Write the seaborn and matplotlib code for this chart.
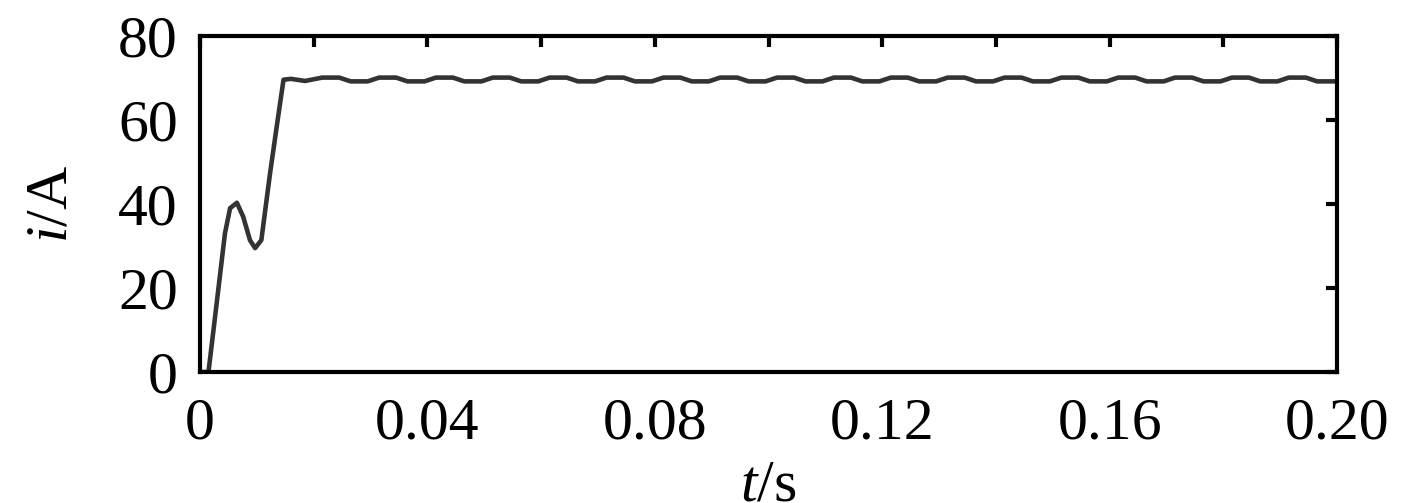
import numpy as np
import pandas as pd
import matplotlib
matplotlib.use("Agg")
import matplotlib.pyplot as plt
import seaborn as sns

# Transient part
t_transient = [0.0, 0.0015, 0.0030, 0.0044, 0.0053, 0.0065, 0.0076, 0.0088, 0.0097,
               0.0108, 0.0123, 0.0135, 0.0147, 0.0160, 0.0185]
i_transient = [0.0, 0.0, 17.0, 33.0, 39.0, 40.3, 37.0, 31.4, 29.5,
               31.4, 47.0, 58.4, 69.6, 69.8, 69.3]

# Steady-state ripple: plateau points around alternating peaks and troughs
t_steady = [0.0215, 0.0245, 0.0265, 0.0295, 0.0315, 0.0345, 0.0365, 0.0395,
            0.0415, 0.0445, 0.0465, 0.0495, 0.0515, 0.0545, 0.0565, 0.0595,
            0.0615, 0.0645, 0.0665, 0.0695, 0.0715, 0.0745, 0.0765, 0.0795,
            0.0815, 0.0845, 0.0865, 0.0895, 0.0915, 0.0945, 0.0965, 0.0995,
            0.1015, 0.1045, 0.1065, 0.1095, 0.1115, 0.1145, 0.1165, 0.1195,
            0.1215, 0.1245, 0.1265, 0.1295, 0.1315, 0.1345, 0.1365, 0.1395,
            0.1415, 0.1445, 0.1465, 0.1495, 0.1515, 0.1545, 0.1565, 0.1595,
            0.1615, 0.1645, 0.1665, 0.1695, 0.1715, 0.1745, 0.1765, 0.1795,
            0.1815, 0.1845, 0.1865, 0.1895, 0.1915, 0.1945, 0.1965, 0.1995,
            0.2000]
i_steady = [70.1, 70.1, 69.2, 69.2, 70.1, 70.1, 69.2, 69.2,
            70.1, 70.1, 69.2, 69.2, 70.1, 70.1, 69.2, 69.2,
            70.1, 70.1, 69.2, 69.2, 70.1, 70.1, 69.2, 69.2,
            70.1, 70.1, 69.2, 69.2, 70.1, 70.1, 69.2, 69.2,
            70.1, 70.1, 69.2, 69.2, 70.1, 70.1, 69.2, 69.2,
            70.1, 70.1, 69.2, 69.2, 70.1, 70.1, 69.2, 69.2,
            70.1, 70.1, 69.2, 69.2, 70.1, 70.1, 69.2, 69.2,
            70.1, 70.1, 69.2, 69.2, 70.1, 70.1, 69.2, 69.2,
            70.1, 70.1, 69.2, 69.2, 70.1, 70.1, 69.2, 69.2,
            69.3]

x_ticks = [0, 0.02, 0.04, 0.06, 0.08, 0.10, 0.12, 0.14, 0.16, 0.18, 0.20]
x_ticklabels = ["0", "", "0.04", "", "0.08", "", "0.12", "", "0.16", "", "0.20"]
y_ticks = [0, 20, 40, 60, 80]
y_ticklabels = ["0", "20", "40", "60", "80"]

sns.set_theme(style="white")
plt.rcParams["font.family"] = ["Liberation Serif", "DejaVu Serif"]
plt.rcParams["mathtext.fontset"] = "custom"
plt.rcParams["mathtext.rm"] = "Liberation Serif"
plt.rcParams["mathtext.it"] = "Liberation Serif:italic"

df = pd.DataFrame({"t": t_transient + t_steady, "i": i_transient + i_steady})

fig = plt.figure(figsize=(14.17, 5.03), dpi=100)
ax = fig.add_axes([0.1411, 0.2604, 0.9436 - 0.1411, 0.9284 - 0.2604])
sns.lineplot(data=df, x="t", y="i", ax=ax, color="#333333", linewidth=3.3,
             sort=False, estimator=None)

ax.set_xlim(0, 0.20)
ax.set_ylim(0, 80)
ax.set_xticks(x_ticks)
ax.set_xticklabels(x_ticklabels)
ax.set_yticks(y_ticks)
ax.set_yticklabels(y_ticklabels)
ax.tick_params(direction="in", length=8, width=3, top=True, right=True,
               labelsize=43, colors="black", pad=18)
ax.tick_params(axis="y", pad=16)
for s in ax.spines.values():
    s.set_linewidth(3)
    s.set_color("black")
ax.set_xlabel(r"$\mathit{t}$/s", fontsize=43, labelpad=6, color="black")
ax.set_ylabel(r"$\mathit{i}$/A", fontsize=43, labelpad=28, color="black")
ax.grid(False)

fig.savefig("out.png", dpi=100)
